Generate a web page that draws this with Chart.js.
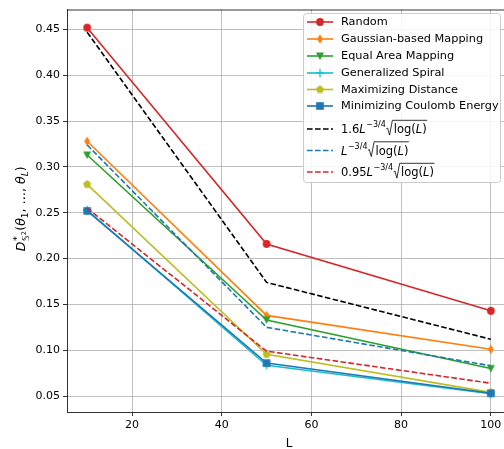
<!DOCTYPE html>
<html><head><meta charset="utf-8">
<script src="https://cdn.jsdelivr.net/npm/chart.js@4/dist/chart.umd.min.js"></script>
<style>
html,body{margin:0;padding:0;overflow:hidden;background:#fff;width:504px;height:449px}
#wrap{position:absolute;left:0;top:0;width:520px;height:449px}
</style>
</head><body><div id="wrap"><canvas id="c" width="520" height="449"></canvas></div>
<script>
// ---- data ----
const L = [10, 50, 100];
const randomVals   = [0.452, 0.216, 0.143];
const gaussianVals = [0.328, 0.138, 0.101];
const equalVals    = [0.313, 0.133, 0.080];
const spiralVals   = [0.253, 0.0835, 0.0525];
const maxDistVals  = [0.281, 0.0955, 0.054];
const coulombVals  = [0.252, 0.086, 0.053];
const bound16Vals  = [0.447, 0.174, 0.112];
const bound1Vals   = [0.324, 0.125, 0.083];
const bound095Vals = [0.255, 0.099, 0.064];
const seriesNames = ['Random','Gaussian-based Mapping','Equal Area Mapping','Generalized Spiral','Maximizing Distance','Minimizing Coulomb Energy'];
const boundCoefs = ['1.6', '', '0.95'];
const xTicks = [20, 40, 60, 80, 100];
const yTicks = [0.05, 0.10, 0.15, 0.20, 0.25, 0.30, 0.35, 0.40, 0.45];

const C = {red:'#d62728', orange:'#ff7f0e', green:'#2ca02c', cyan:'#17becf', olive:'#bcbd22', blue:'#1f77b4', black:'#000000'};
const FONT = '"DejaVu Sans", sans-serif';

function mk(type, color) {
  const s = 14, m = s / 2;
  const c = document.createElement('canvas'); c.width = s; c.height = s;
  const g = c.getContext('2d'); g.fillStyle = color; g.strokeStyle = color; g.lineWidth = 1;
  g.beginPath();
  if (type === 'o') { g.arc(m, m, 3.9, 0, Math.PI * 2); g.fill(); }
  else if (type === 'd') { g.moveTo(m, m - 4.8); g.lineTo(m + 2.9, m); g.lineTo(m, m + 4.8); g.lineTo(m - 2.9, m); g.closePath(); g.fill(); }
  else if (type === 'v') { g.moveTo(m, m + 4.0); g.lineTo(m - 4.0, m - 3.6); g.lineTo(m + 4.0, m - 3.6); g.closePath(); g.fill(); }
  else if (type === '+') { g.lineWidth = 1.3; g.moveTo(m - 4.2, m); g.lineTo(m + 4.2, m); g.moveTo(m, m - 4.2); g.lineTo(m, m + 4.2); g.stroke(); }
  else if (type === 'p') { for (let i = 0; i < 5; i++) { const a = -Math.PI / 2 + i * 2 * Math.PI / 5; const px = m + 4.2 * Math.cos(a), py = m + 4.2 * Math.sin(a); i ? g.lineTo(px, py) : g.moveTo(px, py); } g.closePath(); g.fill(); }
  else if (type === 's') { g.rect(m - 3.8, m - 3.8, 7.6, 7.6); g.fill(); }
  return c;
}

const solid = [
  {vals: randomVals, color: C.red, m: 'o'},
  {vals: gaussianVals, color: C.orange, m: 'd'},
  {vals: equalVals, color: C.green, m: 'v'},
  {vals: spiralVals, color: C.cyan, m: '+'},
  {vals: maxDistVals, color: C.olive, m: 'p'},
  {vals: coulombVals, color: C.blue, m: 's'},
];
const dashed = [
  {vals: bound16Vals, color: C.black},
  {vals: bound1Vals, color: C.blue},
  {vals: bound095Vals, color: C.red},
];
solid.forEach(s => s.img = mk(s.m, s.color));

const datasets = [];
solid.forEach((s, i) => datasets.push({
  label: seriesNames[i], data: L.map((x, j) => ({x, y: s.vals[j]})),
  borderColor: s.color, backgroundColor: s.color, borderWidth: 1.6,
  pointStyle: s.img, pointRadius: 5, pointHoverRadius: 5, fill: false, tension: 0,
  order: 20 - i
}));
dashed.forEach((s, i) => datasets.push({
  label: 'bound' + i, data: L.map((x, j) => ({x, y: s.vals[j]})),
  borderColor: s.color, borderWidth: 1.6, borderDash: [5.6, 2.4],
  pointRadius: 0, fill: false, tension: 0, order: 10 - i
}));

function drawSeq(ctx, items, x, base, draw) {
  let cx = x;
  for (const it of items) {
    if (it.stack) {
      let w1 = 0, w2 = 0;
      let sx = cx;
      for (const a of it.sup) { ctx.font = a.f; const w = ctx.measureText(a.t).width; if (draw) ctx.fillText(a.t, sx, base + a.dy); sx += w; } w1 = sx - cx;
      sx = cx;
      for (const a of it.sub) { ctx.font = a.f; const w = ctx.measureText(a.t).width; if (draw) ctx.fillText(a.t, sx, base + a.dy); sx += w; } w2 = sx - cx;
      cx += Math.max(w1, w2) + (it.after || 0);
    } else {
      ctx.font = it.f; const w = ctx.measureText(it.t).width;
      if (draw) ctx.fillText(it.t, cx, base + (it.dy || 0));
      cx += w + (it.after || 0);
    }
  }
  return cx - x;
}

const overlay = {
  id: 'overlay',
  afterDraw(chart) {
    const ctx = chart.ctx, a = chart.chartArea;
    ctx.save();
    // top and right spines
    ctx.strokeStyle = '#000'; ctx.lineWidth = 0.8;
    ctx.beginPath(); ctx.moveTo(a.left, a.top + 0.4); ctx.lineTo(a.right, a.top + 0.4); ctx.stroke();
    ctx.beginPath(); ctx.moveTo(a.right - 0.4, a.top); ctx.lineTo(a.right - 0.4, a.bottom); ctx.stroke();

    // y-axis label
    ctx.fillStyle = '#000'; ctx.textBaseline = 'alphabetic'; ctx.textAlign = 'left';
    const R = '12.5px ' + FONT, I = 'italic 12.5px ' + FONT, SI = 'italic 9px ' + FONT, SR = '9px ' + FONT, SS = '6.5px ' + FONT;
    const yl = [
      {t: 'D', f: I, after: 0.5},
      {stack: true, sup: [{t: '*', f: '9.5px ' + FONT, dy: -5.5}], sub: [{t: '𝕊', f: SR, dy: 3.5}, {t: '2', f: SS, dy: 0.5}], after: 0.5},
      {t: '(', f: R},
      {t: 'θ', f: I},
      {t: '1', f: SR, dy: 3, after: 0},
      {t: ', …, ', f: R},
      {t: 'θ', f: I},
      {t: 'L', f: SI, dy: 3},
      {t: ')', f: R},
    ];
    ctx.save();
    ctx.translate(25, (a.top + a.bottom) / 2 - 2);
    ctx.rotate(-Math.PI / 2);
    const w = drawSeq(ctx, yl, 0, 0, false);
    drawSeq(ctx, yl, -w / 2, 0, true);
    ctx.restore();

    // x-axis label
    ctx.font = '12px ' + FONT; ctx.textAlign = 'center'; ctx.textBaseline = 'alphabetic';
    ctx.fillText('L', 289, 447);

    // legend
    const bx = 303, by = 13, bw = 197, bh = 169;
    ctx.beginPath(); ctx.roundRect(bx + 0.5, by + 0.5, bw, bh, 3);
    ctx.fillStyle = 'rgba(255,255,255,0.85)'; ctx.fill();
    ctx.strokeStyle = '#cccccc'; ctx.lineWidth = 1; ctx.stroke();
    const rows = [22, 39, 56, 73, 89.5, 106, 129, 150.5, 172];
    const lx0 = 307, lx1 = 333, tx = 341;
    solid.forEach((s, i) => {
      const y = rows[i];
      ctx.strokeStyle = s.color; ctx.lineWidth = 1.6; ctx.setLineDash([]);
      ctx.beginPath(); ctx.moveTo(lx0, y); ctx.lineTo(lx1, y); ctx.stroke();
      ctx.drawImage(s.img, (lx0 + lx1) / 2 - 7, y - 7);
      ctx.fillStyle = '#000'; ctx.font = '11.3px ' + FONT; ctx.textAlign = 'left'; ctx.textBaseline = 'middle';
      ctx.fillText(seriesNames[i], tx, y + 0.5);
    });
    dashed.forEach((s, i) => {
      const y = rows[6 + i];
      ctx.strokeStyle = s.color; ctx.lineWidth = 1.6; ctx.setLineDash([5.6, 2.4]);
      ctx.beginPath(); ctx.moveTo(lx0, y); ctx.lineTo(lx1, y); ctx.stroke();
      ctx.setLineDash([]);
      ctx.fillStyle = '#000'; ctx.textAlign = 'left'; ctx.textBaseline = 'alphabetic';
      const base = y + 4.3;
      let x = tx;
      const f = '11.5px ' + FONT, fi = 'italic 11.5px ' + FONT, fs = '8px ' + FONT;
      x += drawSeq(ctx, [
        {t: boundCoefs[i], f: f},
        {t: 'L', f: fi, after: 0.5},
        {t: '−3/4', f: fs, dy: -6},
      ], x, base, true);
      // radical
      const cont = [{t: 'log(', f: f}, {t: 'L', f: fi}, {t: ')', f: f}];
      const cw = drawSeq(ctx, cont, 0, 0, false);
      const top = base - 13;
      ctx.strokeStyle = '#000'; ctx.lineWidth = 0.8;
      ctx.beginPath();
      ctx.moveTo(x + 0.5, base - 4.5); ctx.lineTo(x + 1.8, base - 5.3);
      ctx.lineTo(x + 3.8, base + 1.8); ctx.lineTo(x + 6.6, top); ctx.lineTo(x + 8 + cw + 0.5, top);
      ctx.stroke();
      drawSeq(ctx, cont, x + 8, base, true);
    });
    ctx.restore();
  }
};

new Chart(document.getElementById('c'), {
  type: 'line',
  data: {datasets},
  options: {
    responsive: false, animation: false, devicePixelRatio: 1,
    layout: {padding: {top: 7, right: 9, left: 0, bottom: 0}},
    plugins: {legend: {display: false}, tooltip: {enabled: false}},
    scales: {
      x: {
        type: 'linear', min: 5.5, max: 104.5,
        afterBuildTicks: s => { s.ticks = xTicks.map(v => ({value: v})); },
        afterFit: s => { s.height = 37; },
        grid: {color: '#b0b0b0', lineWidth: 0.8, tickColor: '#000', tickLength: 4, tickWidth: 0.8},
        border: {display: true, color: '#000', width: 0.8},
        ticks: {color: '#000', font: {family: 'DejaVu Sans', size: 11}, padding: 3, maxRotation: 0, autoSkip: false, callback: v => String(v)}
      },
      y: {
        type: 'linear', min: 0.0326, max: 0.4717,
        afterBuildTicks: s => { s.ticks = yTicks.map(v => ({value: v})); },
        afterFit: s => { s.width = 67; },
        grid: {color: '#b0b0b0', lineWidth: 0.8, tickColor: '#000', tickLength: 4, tickWidth: 0.8},
        border: {display: true, color: '#000', width: 0.8},
        ticks: {color: '#000', font: {family: 'DejaVu Sans', size: 11}, padding: 3, autoSkip: false, callback: v => v.toFixed(2)}
      }
    }
  },
  plugins: [overlay]
});
</script>
</body></html>
